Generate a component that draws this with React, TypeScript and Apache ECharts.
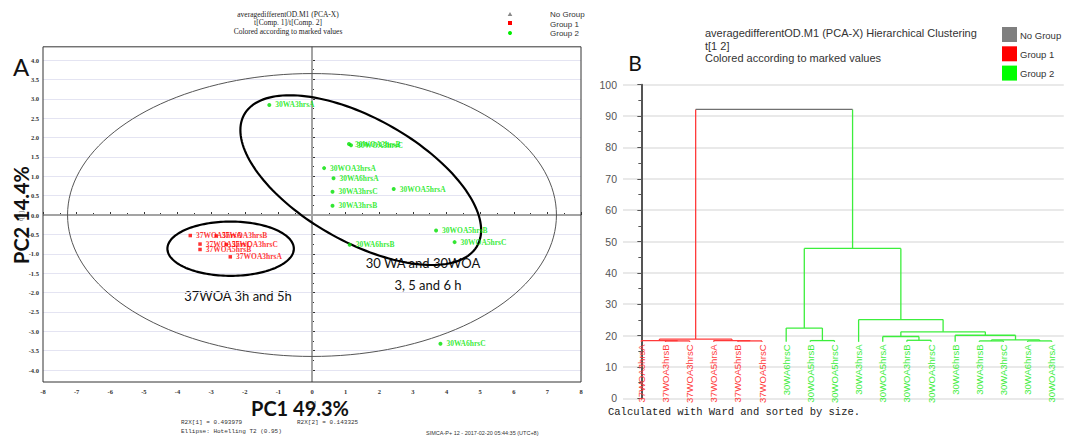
import React, { useEffect, useRef } from "react";
import * as echarts from "echarts";

// ---------- Panel A: PCA score plot ----------
const pcaTitleLines = ["averagedifferentOD.M1 (PCA-X)", "t[Comp. 1]/t[Comp. 2]", "Colored according to marked values"];
const legendLabels = ["No Group", "Group 1", "Group 2"];

const group1Names = ["37WOA5hrsA", "37WOA3hrsB", "37WOA5hrsC", "37WOA3hrsC", "37WOA5hrsB", "37WOA3hrsA"];
const group1X = [-3.62, -2.85, -3.33, -2.55, -3.33, -2.43];
const group1Y = [-0.53, -0.54, -0.75, -0.76, -0.89, -1.08];

const group2Names = ["30WA3hrsA", "30WOA3hrsB", "30WOA3hrsC", "30WOA3hrsA", "30WA6hrsA", "30WA3hrsC", "30WOA5hrsA", "30WA3hrsB", "30WOA5hrsB", "30WOA5hrsC", "30WA6hrsB", "30WA6hrsC"];
const group2X = [-1.27, 1.10, 1.16, 0.36, 0.64, 0.61, 2.43, 0.61, 3.69, 4.24, 1.12, 3.82];
const group2Y = [2.84, 1.83, 1.80, 1.21, 0.95, 0.60, 0.67, 0.24, -0.40, -0.70, -0.77, -3.32];

// ellipses: center, first semi-axis vector, second (conjugate) semi-axis vector
const ellipseCenterX = [0, -2.42, 1.45];
const ellipseCenterY = [0, -0.87, 0.90];
const ellipseUX = [7.27, 1.88, 3.58];
const ellipseUY = [0, 0, -1.29];
const ellipseVX = [0, 0, 0];
const ellipseVY = [3.65, 0.70, 1.77];

const pcaXRange = [-8, 8];
const pcaFrameY = [-4.31, 4.34];

const r2xTexts = ["R2X[1] = 0.493979", "R2X[2] = 0.143325", "Ellipse: Hotelling T2 (0.95)"];
const simcaText = "SIMCA-P+ 12 - 2017-02-20 05:44:35 (UTC+8)";

// ---------- Panel B: dendrogram ----------
const dendroTitleLines = ["averagedifferentOD.M1 (PCA-X) Hierarchical Clustering", "t[1 2]", "Colored according to marked values"];
const leafNames = ["37WOA3hrsA", "37WOA3hrsB", "37WOA3hrsC", "37WOA5hrsA", "37WOA5hrsB", "37WOA5hrsC", "30WA6hrsC", "30WOA5hrsB", "30WOA5hrsC", "30WA3hrsA", "30WOA5hrsA", "30WOA3hrsB", "30WOA3hrsC", "30WA6hrsB", "30WA3hrsB", "30WA3hrsC", "30WA6hrsA", "30WOA3hrsA"];
const leafGroup = [1, 1, 1, 1, 1, 1, 2, 2, 2, 2, 2, 2, 2, 2, 2, 2, 2, 2];
const leafBase = 18.0;
// merge k creates node id 18 + k
const mergeLeft = [1, 0, 4, 3, 19, 7, 6, 11, 10, 14, 16, 27, 13, 26, 9, 24, 22];
const mergeRight = [2, 18, 5, 20, 21, 8, 23, 12, 25, 15, 17, 28, 29, 30, 31, 32, 33];
const mergeHeight = [18.3, 18.4, 18.3, 18.4, 18.9, 18.4, 22.4, 18.5, 19.7, 18.3, 18.3, 18.6, 20.1, 21.2, 25.1, 47.8, 92.1];
const dendroNote = "Calculated with Ward and sorted by size.";

const groupColors = ["#707070", "#ff3a3a", "#3cee3c"];
const legendSquareColors = ["#7f7f7f", "#ff0000", "#00ff00"];

function buildLinks() {
  const nx: number[] = [];
  const nh: number[] = [];
  const ng: number[] = [];
  leafNames.forEach((_, i) => {
    nx[i] = i;
    nh[i] = leafBase;
    ng[i] = leafGroup[i];
  });
  const links: number[][] = [];
  mergeLeft.forEach((l, k) => {
    const r = mergeRight[k];
    const id = leafNames.length + k;
    nx[id] = (nx[l] + nx[r]) / 2;
    nh[id] = mergeHeight[k];
    ng[id] = ng[l] === ng[r] ? ng[l] : 0;
    links.push([nx[l], nx[r], nh[l], nh[r], mergeHeight[k], ng[l], ng[r], ng[id]]);
  });
  return links;
}

function txt(x: number, y: number, text: string, fontSize: number, fontFamily: string, fill: string, align: string, extra: any = {}) {
  return {
    type: "text", x, y, ...extra,
    style: { text, fill, fontSize, fontFamily, fontWeight: extra.fontWeight || "normal", align, textAlign: align, verticalAlign: "middle", textVerticalAlign: "middle" },
  };
}

export default function App() {
  const ref = useRef<HTMLDivElement>(null);
  useEffect(() => {
    const chart = echarts.init(ref.current!, null, { renderer: "svg" });
    const links = buildLinks();
    const serif = "Liberation Serif";
    const sans = "Liberation Sans";
    const mono = "Liberation Mono";

    const graphic: any[] = [];
    pcaTitleLines.forEach((t, i) => graphic.push(txt(288, 14 + i * 8.6, t, 7.5, serif, "#222", "center")));
    // legend A
    graphic.push({ type: "polygon", shape: { points: [[510, 12], [512.3, 16], [507.7, 16]] }, style: { fill: "#888" } });
    graphic.push({ type: "rect", shape: { x: 508, y: 21, width: 4, height: 4 }, style: { fill: "#ff0000" } });
    graphic.push({ type: "circle", shape: { cx: 510, cy: 33, r: 2 }, style: { fill: "#00ee00" } });
    legendLabels.forEach((t, i) => graphic.push(txt(550, 14.5 + i * 9.5, t, 8, sans, "#333", "left")));
    graphic.push(txt(21, 66, "A", 24, "Lato", "#111", "center"));
    graphic.push(txt(21, 216, "t[2]", 7, serif, "#555", "center", { rotation: Math.PI / 2 }));
    graphic.push(txt(21, 215, "PC2 14.4%", 20, "Lato", "#111", "center", { rotation: Math.PI / 2, fontWeight: "bold" }));
    graphic.push(txt(311, 403, "t[1]", 7, serif, "#555", "center"));
    graphic.push(txt(300, 408, "PC1 49.3%", 20, "Lato", "#111", "center", { fontWeight: "bold" }));
    graphic.push(txt(238, 296, "37WOA 3h and 5h", 13, "Lato", "#111", "center"));
    graphic.push(txt(423, 263, "30 WA and 30WOA", 13, "Lato", "#111", "center"));
    graphic.push(txt(428, 285, "3, 5 and 6 h", 13, "Lato", "#111", "center"));
    graphic.push(txt(181, 422, r2xTexts[0], 6, mono, "#333", "left"));
    graphic.push(txt(297, 422, r2xTexts[1], 6, mono, "#333", "left"));
    graphic.push(txt(181, 431, r2xTexts[2], 6, mono, "#333", "left"));
    graphic.push(txt(426, 433, simcaText, 5.5, sans, "#333", "left"));

    // Panel B texts
    graphic.push(txt(635, 62, "B", 21, "Lato", "#111", "center"));
    dendroTitleLines.forEach((t, i) => graphic.push(txt(705, 33 + i * 12.5, t, 11, sans, "#333", "left")));
    legendLabels.forEach((t, i) => {
      graphic.push({ type: "rect", shape: { x: 1002, y: 27 + i * 19.3, width: 15, height: 15 }, style: { fill: legendSquareColors[i] } });
      graphic.push(txt(1020, 35 + i * 19.3, t, 9.5, sans, "#333", "left"));
    });
    graphic.push(txt(608, 412, dendroNote, 10.5, mono, "#222", "left"));

    const axisLabelSerif = { fontSize: 6.5, fontWeight: "bold", fontFamily: serif, color: "#333" };

    const option: any = {
      animation: false,
      grid: [
        { left: 43, top: 60, width: 538, height: 310 },
        { left: 623, top: 84.7, width: 440.8, height: 313.6 },
      ],
      xAxis: [
        {
          type: "value", gridIndex: 0, min: pcaXRange[0], max: pcaXRange[1], interval: 1, offset: 12,
          axisLine: { show: false },
          axisTick: { show: true, inside: true, length: 3, lineStyle: { color: "#333" } },
          minorTick: { show: true, splitNumber: 2, length: 2, lineStyle: { color: "#333" } },
          axisLabel: { ...axisLabelSerif, margin: 6 },
          splitLine: { show: false },
        },
        { type: "value", gridIndex: 1, min: -0.76, max: 17.5, show: false },
      ],
      yAxis: [
        {
          type: "value", gridIndex: 0, min: -4, max: 4, interval: 0.5,
          axisLine: { show: false },
          axisTick: { show: true, inside: true, length: 3, lineStyle: { color: "#333" } },
          minorTick: { show: true, splitNumber: 2, length: 2, lineStyle: { color: "#333" } },
          axisLabel: { ...axisLabelSerif, margin: 4, formatter: (v: number) => v.toFixed(1) },
          splitLine: { show: true, lineStyle: { color: "#e4e4f2", width: 1 } },
        },
        {
          type: "value", gridIndex: 1, min: 0, max: 100, interval: 10,
          axisLine: { show: true, lineStyle: { color: "#555", width: 2 } },
          axisTick: { show: true, length: 4, lineStyle: { color: "#555" } },
          minorTick: { show: true, splitNumber: 2, length: 3, lineStyle: { color: "#555" } },
          axisLabel: { fontSize: 10.5, fontFamily: sans, color: "#555", margin: 6 },
          splitLine: { show: true, lineStyle: { color: "#e2e2e2", width: 1.5 } },
        },
      ],
      series: [
        {
          type: "custom", xAxisIndex: 0, yAxisIndex: 0, clip: false, silent: true, z: 1,
          data: [[0, 0]],
          renderItem: (_p: any, api: any) => {
            const tl = api.coord([pcaXRange[0], pcaFrameY[1]]);
            const br = api.coord([pcaXRange[1], pcaFrameY[0]]);
            const z0 = api.coord([0, 0]);
            return {
              type: "group",
              children: [
                { type: "line", shape: { x1: z0[0], y1: tl[1], x2: z0[0], y2: br[1] }, style: { stroke: "#a3a3a3", lineWidth: 2 } },
                { type: "line", shape: { x1: tl[0], y1: z0[1], x2: br[0], y2: z0[1] }, style: { stroke: "#a3a3a3", lineWidth: 2 } },
                { type: "rect", shape: { x: tl[0], y: tl[1], width: br[0] - tl[0], height: br[1] - tl[1] }, style: { fill: "none", stroke: "#333", lineWidth: 1 } },
              ],
            };
          },
        },
        {
          type: "custom", xAxisIndex: 0, yAxisIndex: 0, clip: false, silent: true, z: 2,
          data: ellipseCenterX.map((_, i) => [i, 0]),
          renderItem: (_p: any, api: any) => {
            const i = api.value(0);
            const pts: number[][] = [];
            for (let k = 0; k <= 160; k++) {
              const t = (2 * Math.PI * k) / 160;
              const c = Math.cos(t), s = Math.sin(t);
              pts.push(api.coord([
                ellipseCenterX[i] + ellipseUX[i] * c + ellipseVX[i] * s,
                ellipseCenterY[i] + ellipseUY[i] * c + ellipseVY[i] * s,
              ]));
            }
            return {
              type: "polyline",
              shape: { points: pts },
              style: i === 0 ? { fill: "none", stroke: "#555", lineWidth: 1 } : { fill: "none", stroke: "#000", lineWidth: 2.2 },
            };
          },
        },
        {
          type: "scatter", name: "Group 1", xAxisIndex: 0, yAxisIndex: 0, z: 3,
          symbol: "rect", symbolSize: 3.5,
          itemStyle: { color: "#ff0000" },
          data: group1Names.map((n, i) => [group1X[i], group1Y[i], n]),
          label: { show: true, position: "right", distance: 4, formatter: (p: any) => p.data[2], fontSize: 7.5, fontWeight: "bold", fontFamily: serif, color: "#ff0000" },
        },
        {
          type: "scatter", name: "Group 2", xAxisIndex: 0, yAxisIndex: 0, z: 3,
          symbol: "circle", symbolSize: 4,
          itemStyle: { color: "#00e000" },
          data: group2Names.map((n, i) => [group2X[i], group2Y[i], n]),
          label: { show: true, position: "right", distance: 4, formatter: (p: any) => p.data[2], fontSize: 7.5, fontWeight: "bold", fontFamily: serif, color: "#00e600" },
        },
        {
          type: "custom", xAxisIndex: 1, yAxisIndex: 1, clip: false, silent: true, z: 3,
          data: links,
          renderItem: (_p: any, api: any) => {
            const xl = api.value(0), xr = api.value(1), hl = api.value(2), hr = api.value(3), h = api.value(4);
            const gl = api.value(5), gr = api.value(6), g = api.value(7);
            const a = api.coord([xl, hl]), b = api.coord([xl, h]), c = api.coord([xr, h]), d = api.coord([xr, hr]);
            return {
              type: "group",
              children: [
                { type: "line", shape: { x1: a[0], y1: a[1], x2: b[0], y2: b[1] }, style: { stroke: groupColors[gl], lineWidth: 1.3 } },
                { type: "line", shape: { x1: d[0], y1: d[1], x2: c[0], y2: c[1] }, style: { stroke: groupColors[gr], lineWidth: 1.3 } },
                { type: "line", shape: { x1: b[0], y1: b[1], x2: c[0], y2: c[1] }, style: { stroke: groupColors[g], lineWidth: 1.3 } },
              ],
            };
          },
        },
        {
          type: "custom", xAxisIndex: 1, yAxisIndex: 1, clip: false, silent: true, z: 4,
          data: leafNames.map((_, i) => [i, leafBase, leafGroup[i]]),
          renderItem: (params: any, api: any) => {
            const i = api.value(0);
            const p = api.coord([i, api.value(1)]);
            return {
              type: "group",
              x: p[0],
              y: p[1] + 2.5,
              children: [
                {
                  type: "text",
                  rotation: Math.PI / 2,
                  style: {
                    x: 0,
                    y: 0,
                    text: leafNames[params.dataIndex],
                    fill: groupColors[api.value(2)],
                    fontSize: 9.5,
                    fontFamily: sans,
                    align: "right",
                    verticalAlign: "middle",
                  },
                },
              ],
            };
          },
        },
      ],
      graphic,
    };
    chart.setOption(option);
    return () => chart.dispose();
  }, []);
  return <div ref={ref} style={{ position: "absolute", left: 0, top: 0, width: 1067, height: 437 }} />;
}
